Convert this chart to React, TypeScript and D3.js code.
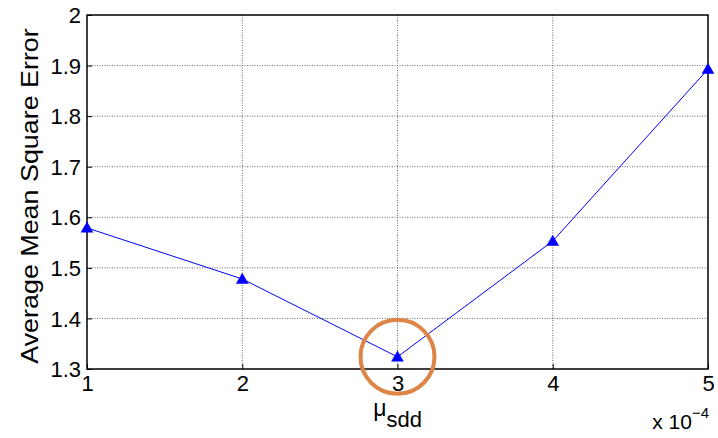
import React, { useEffect, useRef } from "react";
import * as d3 from "d3";

const xValues = [1, 2, 3, 4, 5];
const mseValues = [1.579, 1.478, 1.324, 1.553, 1.893];
const yTicks = [1.3, 1.4, 1.5, 1.6, 1.7, 1.8, 1.9, 2];
const highlightIndex = 2;

export default function App() {
  const ref = useRef<SVGGElement>(null);
  const W = 718, H = 438;
  const margin = { top: 15, right: 10, bottom: 69, left: 87 };
  const width = W - margin.left - margin.right;
  const height = H - margin.top - margin.bottom;

  useEffect(() => {
    const g = d3.select(ref.current);
    g.selectAll("*").remove();
    const font = "'Liberation Sans', Arial, sans-serif";

    const x = d3.scaleLinear().domain([1, 5]).range([0, width]);
    const y = d3.scaleLinear().domain([1.3, 2]).range([height, 0]);

    // grid
    g.append("g").selectAll("line").data(xValues.slice(1, -1)).join("line")
      .attr("x1", d => x(d)).attr("x2", d => x(d))
      .attr("y1", 0).attr("y2", height)
      .attr("stroke", "#444").attr("stroke-width", 0.8).attr("stroke-dasharray", "1,1.5");
    g.append("g").selectAll("line").data(yTicks.slice(1, -1)).join("line")
      .attr("x1", 0).attr("x2", width)
      .attr("y1", d => y(d)).attr("y2", d => y(d))
      .attr("stroke", "#444").attr("stroke-width", 0.8).attr("stroke-dasharray", "1,1.5");

    // box
    g.append("rect").attr("width", width).attr("height", height)
      .attr("fill", "none").attr("stroke", "#000").attr("stroke-width", 1.5);

    // axes
    const xAxis = g.append("g").attr("transform", `translate(0,${height})`)
      .call(d3.axisBottom(x).tickValues(xValues).tickFormat(d3.format("d")).tickSize(-5).tickPadding(6));
    const yAxis = g.append("g")
      .call(d3.axisLeft(y).tickValues(yTicks).tickFormat(d => d3.format("")(+d)).tickSize(-5).tickPadding(6));
    [xAxis, yAxis].forEach(a => {
      a.select(".domain").remove();
      a.selectAll(".tick line").attr("stroke", "#000");
      a.attr("font-size", 22).attr("font-family", font);
      a.selectAll("text").attr("font-family", font).attr("font-size", 22).attr("fill", "#000");
    });
    yAxis.selectAll("text").attr("dy", "0.35em");

    // line
    const line = d3.line<number>().x((d, i) => x(xValues[i])).y(d => y(d));
    g.append("path").datum(mseValues).attr("d", line)
      .attr("fill", "none").attr("stroke", "#0000ff").attr("stroke-width", 1);
    g.append("g").selectAll("path").data(mseValues).join("path")
      .attr("d", d3.symbol(d3.symbolTriangle, 70)())
      .attr("transform", (d, i) => `translate(${x(xValues[i])},${y(d) + 1})`)
      .attr("fill", "#0000ff");

    // highlight circle
    g.append("circle")
      .attr("cx", x(xValues[highlightIndex]))
      .attr("cy", y(mseValues[highlightIndex]))
      .attr("r", 37)
      .attr("fill", "none").attr("stroke", "#dd8447").attr("stroke-width", 4);

    // labels
    const xl = g.append("text").attr("x", x(3)).attr("y", height + 47)
      .attr("text-anchor", "middle").attr("font-family", font).attr("font-size", 23);
    xl.append("tspan").text("μ");
    xl.append("tspan").attr("dy", 11).attr("font-size", 22).text("sdd");

    const ex = g.append("text").attr("x", width + 1).attr("y", height + 60)
      .attr("text-anchor", "end").attr("font-family", font).attr("font-size", 21);
    ex.append("tspan").text("x 10");
    ex.append("tspan").attr("dy", -11).attr("font-size", 15).text("−4");

    g.append("text")
      .attr("transform", `translate(-49,${height / 2 + 4}) rotate(-90) scale(1.12,1)`)
      .attr("text-anchor", "middle").attr("font-family", font).attr("font-size", 24)
      .text("Average Mean Square Error");
  }, []);

  return (
    <svg width={W} height={H} style={{ display: "block", position: "absolute", left: 0, top: 0, background: "#fff" }}>
      <g ref={ref} transform={`translate(${margin.left},${margin.top})`} />
    </svg>
  );
}
